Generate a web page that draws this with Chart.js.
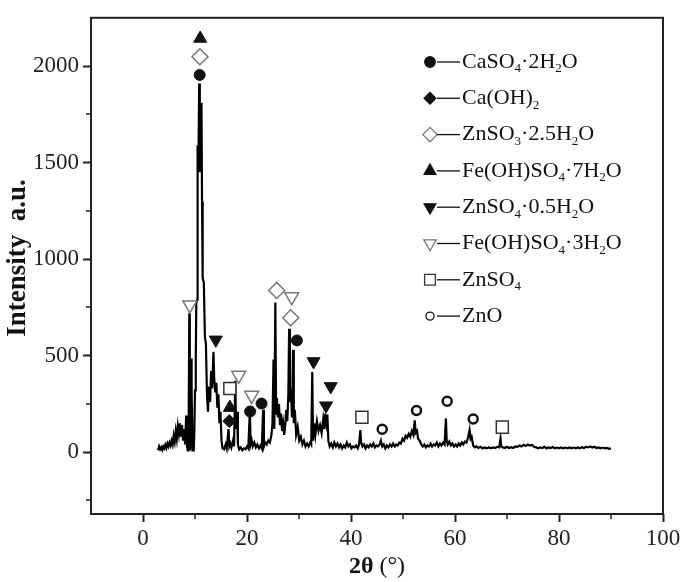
<!DOCTYPE html>
<html>
<head>
<meta charset="utf-8">
<script src="https://cdn.jsdelivr.net/npm/chart.js@4.4.0/dist/chart.umd.min.js"></script>
<style>
  html, body { margin: 0; padding: 0; background: #fff; }
</style>
</head>
<body>
<canvas id="xrd" width="685" height="582"></canvas>
<script>
// XRD trace, [2theta, intensity]
const pattern = [
  [2.9,10],[3.1,30],[3.3,15],[3.5,25],[3.7,12],[3.9,30],[4.1,20],[4.3,38],[4.5,22],[4.7,45],
  [4.9,30],[5.1,50],[5.3,35],[5.5,60],[5.7,40],[5.9,85],[6.1,55],[6.3,110],[6.5,70],[6.7,135],
  [6.9,95],[7.1,150],[7.3,80],[7.5,140],[7.7,60],[7.9,120],[8.1,40],[8.3,190],[8.45,30],[8.6,10],
  [8.75,10],[8.9,720],[9.0,10],[9.1,30],[9.25,485],[9.35,330],[9.5,10],[9.75,10],[9.85,80],[10.0,320],
  [10.15,480],[10.25,770],[10.4,790],[10.5,1590],[10.6,1560],[10.7,1600],[10.8,1910],[10.9,1700],[10.95,1450],[11.05,1800],
  [11.15,1780],[11.25,1810],[11.35,1300],[11.45,1000],
  [11.5,900],[11.7,880],[11.9,600],[12.1,560],[12.3,300],[12.5,210],[12.7,340],[12.9,260],[13.1,420],[13.3,330],
  [13.55,520],[13.7,380],[13.9,310],[14.1,360],[14.3,230],[14.5,300],[14.7,150],[14.9,210],[15.1,60],[15.3,20],
  [15.6,15],[15.9,40],[16.1,20],[16.45,120],[16.6,30],[16.8,45],[17.0,25],[17.3,60],[17.5,30],[17.75,370],
  [17.9,120],[18.1,210],[18.25,40],[18.5,15],[18.8,25],[19.1,10],[19.4,20],[19.7,15],[20.0,30],[20.25,20],
  [20.55,215],[20.7,40],[20.9,60],[21.1,30],[21.4,50],[21.7,25],[22.0,40],[22.3,20],[22.6,35],[22.85,20],
  [23.1,220],[23.25,30],[23.5,50],[23.8,40],[24.1,60],[24.4,50],[24.7,90],[24.9,150],[25.1,480],[25.25,120],
  [25.45,775],[25.6,200],[25.75,280],[25.95,180],[26.15,250],[26.35,140],[26.55,200],[26.75,110],[26.95,150],[27.15,90],
  [27.35,140],[27.55,220],[27.75,160],[27.95,300],[28.1,640],[28.25,260],[28.45,330],[28.65,180],[28.85,530],[29.0,150],
  [29.2,220],[29.45,90],[29.75,130],[30.05,60],[30.35,80],[30.65,40],[30.95,60],[31.25,30],[31.55,45],[31.85,30],
  [32.15,50],[32.35,40],[32.55,415],[32.7,60],[32.95,150],[33.15,90],[33.45,160],[33.75,110],[34.05,140],[34.35,100],
  [34.65,170],[34.85,120],[35.05,200],[35.25,150],[35.45,195],[35.65,60],[35.9,30],[36.2,45],[36.5,25],[36.8,50],
  [37.1,30],[37.4,45],[37.7,25],[38.0,40],[38.3,20],[38.6,35],[38.9,25],[39.2,50],[39.5,30],[39.8,40],
  [40.1,20],[40.4,30],[40.7,25],[41.0,35],[41.3,20],[41.55,40],[41.8,115],[41.95,50],[42.2,30],[42.5,40],
  [42.8,20],[43.1,35],[43.4,25],[43.7,40],[44.0,30],[44.3,45],[44.6,25],[44.9,35],[45.2,30],[45.5,40],
  [45.75,60],[46.0,30],[46.3,40],[46.6,20],[46.9,35],[47.2,25],[47.5,40],[47.8,30],[48.1,45],[48.4,30],
  [48.7,40],[49.0,35],[49.3,50],[49.6,45],[49.9,70],[50.2,60],[50.5,85],[50.8,75],[51.1,95],[51.4,80],
  [51.7,110],[52.0,90],[52.25,165],[52.45,100],[52.7,110],[52.9,70],[53.2,60],[53.5,40],[53.8,30],[54.1,40],
  [54.4,25],[54.7,35],[55.0,30],[55.3,45],[55.6,30],[55.9,40],[56.2,35],[56.5,50],[56.8,30],[57.1,45],
  [57.4,35],[57.7,50],[58.0,40],[58.25,175],[58.4,60],[58.6,40],[58.9,55],[59.2,35],[59.5,45],[59.8,30],
  [60.1,40],[60.4,30],[60.7,45],[61.0,35],[61.3,50],[61.6,40],[61.9,55],[62.2,50],[62.5,75],[62.8,115],
  [63.0,70],[63.2,80],[63.5,35],[63.8,25],[64.1,30],[64.5,22],[64.9,28],[65.3,20],[65.7,25],[66.1,20],
  [66.5,26],[66.9,20],[67.3,25],[67.7,22],[68.1,28],[68.5,25],[68.75,70],[68.9,30],[69.2,25],[69.6,22],
  [70.0,28],[70.4,22],[70.8,26],[71.2,22],[71.6,30],[72.0,28],[72.4,35],[72.8,30],[73.2,38],[73.6,32],
  [74.0,40],[74.4,35],[74.8,38],[75.2,28],[75.6,25],[76.0,20],[76.4,25],[76.8,22],[77.2,28],[77.6,20],
  [78.0,25],[78.4,22],[78.8,27],[79.2,20],[79.6,24],[80.0,20],[80.4,25],[80.8,20],[81.2,24],[81.6,20],
  [82.0,25],[82.4,20],[82.8,24],[83.2,20],[83.6,25],[84.0,20],[84.4,26],[84.8,22],[85.2,28],[85.6,25],
  [86.0,30],[86.4,24],[86.8,28],[87.2,22],[87.6,25],[88.0,20],[88.4,24],[88.8,20],[89.2,22],[89.6,18],
  [90.0,20]
];

// axis ticks
const xTicks = [0, 20, 40, 60, 80, 100];
const xMinor = [10, 30, 50, 70, 90];
const yTicks = [0, 500, 1000, 1500, 2000];
const yMinor = [-250, 250, 750, 1250, 1750];

// phase names ( _n = subscript )
const phaseNames = [
  'CaSO_4·2H_2O', 'Ca(OH)_2', 'ZnSO_3·2.5H_2O', 'Fe(OH)SO_4·7H_2O',
  'ZnSO_4·0.5H_2O', 'Fe(OH)SO_4·3H_2O', 'ZnSO_4', 'ZnO'
];

// peak marker positions for each phase
const gypsumX = [10.9, 20.6, 22.8, 29.6];
const gypsumY = [1954, 211, 252, 579];
const caOHX = [16.6];
const caOHY = [161];
const znSO3X = [10.95, 25.7, 28.4];
const znSO3Y = [2048, 838, 696];
const fe7X = [11.0, 16.7];
const fe7Y = [2143, 231];
const znHalfX = [14.0, 32.8, 35.2, 36.1];
const znHalfY = [582, 470, 241, 341];
const fe3X = [9.0, 18.4, 20.9, 28.6];
const fe3Y = [763, 398, 295, 805];
const znSO4X = [16.7, 42.1, 69.1];
const znSO4Y = [330, 181, 130];
const znOX = [46.0, 52.6, 58.5, 63.5];
const znOY = [119, 216, 264, 172];

const phaseX = [gypsumX, caOHX, znSO3X, fe7X, znHalfX, fe3X, znSO4X, znOX];
const phaseY = [gypsumY, caOHY, znSO3Y, fe7Y, znHalfY, fe3Y, znSO4Y, znOY];

const markerStyles = [
  { pointStyle: 'circle', radius: 5.5, rotation: 0, fill: '#111', stroke: '#111', width: 1 },
  { pointStyle: 'rectRot', radius: 6.5, rotation: 0, fill: '#111', stroke: '#111', width: 1 },
  { pointStyle: 'rectRot', radius: 8, rotation: 0, fill: '#fff', stroke: '#777', width: 1.5 },
  { pointStyle: 'triangle', radius: 7.5, rotation: 0, fill: '#111', stroke: '#111', width: 1 },
  { pointStyle: 'triangle', radius: 7.5, rotation: 180, fill: '#111', stroke: '#111', width: 1 },
  { pointStyle: 'triangle', radius: 8, rotation: 180, fill: '#fff', stroke: '#777', width: 1.5 },
  { pointStyle: 'rect', radius: 8.5, rotation: 0, fill: '#fff', stroke: '#333', width: 1.5 },
  { pointStyle: 'circle', radius: 4.5, rotation: 0, fill: '#fff', stroke: '#111', width: 2.5 }
];

const serif = '"Liberation Serif", "Times New Roman", serif';

function drawRich(ctx, str, x, y, size, subSize) {
  const parts = str.split(/_(\d)/);
  parts.forEach((p, i) => {
    if (i % 2 === 1) {
      ctx.font = subSize + 'px ' + serif;
      ctx.fillText(p, x, y + 7);
    } else {
      ctx.font = size + 'px ' + serif;
      ctx.fillText(p, x, y);
    }
    x += ctx.measureText(p).width;
  });
}

const decorations = {
  id: 'decorations',
  afterDraw(chart) {
    const { ctx, chartArea: a, scales } = chart;
    ctx.save();
    ctx.strokeStyle = '#222';
    // minor ticks
    ctx.lineWidth = 1.5;
    ctx.beginPath();
    xMinor.forEach(v => {
      const px = Math.round(scales.x.getPixelForValue(v));
      ctx.moveTo(px, a.bottom);
      ctx.lineTo(px, a.bottom + 5);
    });
    yMinor.forEach(v => {
      const py = Math.round(scales.y.getPixelForValue(v));
      ctx.moveTo(a.left, py);
      ctx.lineTo(a.left - 5, py);
    });
    ctx.stroke();
    // frame
    ctx.lineWidth = 2;
    ctx.strokeRect(a.left, a.top, a.right - a.left, a.bottom - a.top);

    // legend
    const lx = 430;
    phaseNames.forEach((name, i) => {
      const ly = 62 + i * 36.3;
      const st = markerStyles[i];
      ctx.fillStyle = st.fill;
      ctx.strokeStyle = st.stroke;
      Chart.helpers.drawPoint(ctx, { pointStyle: st.pointStyle, radius: st.radius * 0.9, rotation: st.rotation, borderWidth: st.width }, lx, ly);
      ctx.strokeStyle = '#111';
      ctx.lineWidth = 1.3;
      ctx.beginPath();
      ctx.moveTo(lx + 7, ly);
      ctx.lineTo(lx + 30, ly);
      ctx.stroke();
      ctx.fillStyle = '#111';
      ctx.textBaseline = 'middle';
      ctx.textAlign = 'left';
      drawRich(ctx, name, lx + 32, ly, 22, 13);
    });

    // axis titles
    ctx.fillStyle = '#111';
    ctx.textBaseline = 'middle';
    ctx.save();
    ctx.translate(18, 258);
    ctx.rotate(-Math.PI / 2);
    ctx.textAlign = 'center';
    ctx.font = 'bold 27px ' + serif;
    ctx.fillText('Intensity  a.u.', 0, 0);
    ctx.restore();

    const cx = (a.left + a.right) / 2;
    ctx.font = 'bold 24px ' + serif;
    const w1 = ctx.measureText('2θ').width;
    ctx.font = '24px ' + serif;
    const w2 = ctx.measureText(' (°)').width;
    let tx = cx - (w1 + w2) / 2;
    ctx.textAlign = 'left';
    ctx.font = 'bold 24px ' + serif;
    ctx.fillText('2θ', tx, 567);
    ctx.font = '24px ' + serif;
    ctx.fillText(' (°)', tx + w1, 567);
    ctx.restore();
  }
};

const datasets = [{
  type: 'line',
  data: pattern.map(p => ({ x: p[0], y: p[1] })),
  borderColor: '#000',
  borderWidth: 2.2,
  pointRadius: 0,
  tension: 0,
  order: 2
}];
phaseX.forEach((xs, i) => {
  const st = markerStyles[i];
  datasets.push({
    type: 'scatter',
    data: xs.map((x, j) => ({ x: x, y: phaseY[i][j] })),
    pointStyle: st.pointStyle,
    pointRadius: st.radius,
    rotation: st.rotation,
    backgroundColor: st.fill,
    borderColor: st.stroke,
    borderWidth: st.width,
    order: 1
  });
});

new Chart(document.getElementById('xrd'), {
  data: { datasets: datasets },
  plugins: [decorations],
  options: {
    responsive: false,
    animation: false,
    devicePixelRatio: 1,
    layout: { padding: { top: 4, right: 22, left: 0, bottom: 0 } },
    plugins: { legend: { display: false }, tooltip: { enabled: false } },
    scales: {
      x: {
        type: 'linear',
        min: -10,
        max: 100,
        afterFit: s => { s.height = 68; },
        afterBuildTicks: s => { s.ticks = xTicks.map(v => ({ value: v })); },
        grid: { drawOnChartArea: false, tickLength: 8, tickWidth: 2, tickColor: '#222' },
        border: { display: false },
        ticks: { padding: 3, color: '#222', font: { family: serif, size: 23 }, maxRotation: 0, callback: v => String(v) }
      },
      y: {
        type: 'linear',
        min: -320,
        max: 2250,
        afterFit: s => { s.width = 91; },
        afterBuildTicks: s => { s.ticks = yTicks.map(v => ({ value: v })); },
        grid: { drawOnChartArea: false, tickLength: 8, tickWidth: 2, tickColor: '#222' },
        border: { display: false },
        ticks: { padding: 4, color: '#222', font: { family: serif, size: 23 }, callback: v => String(v) }
      }
    }
  }
});
</script>
</body>
</html>
